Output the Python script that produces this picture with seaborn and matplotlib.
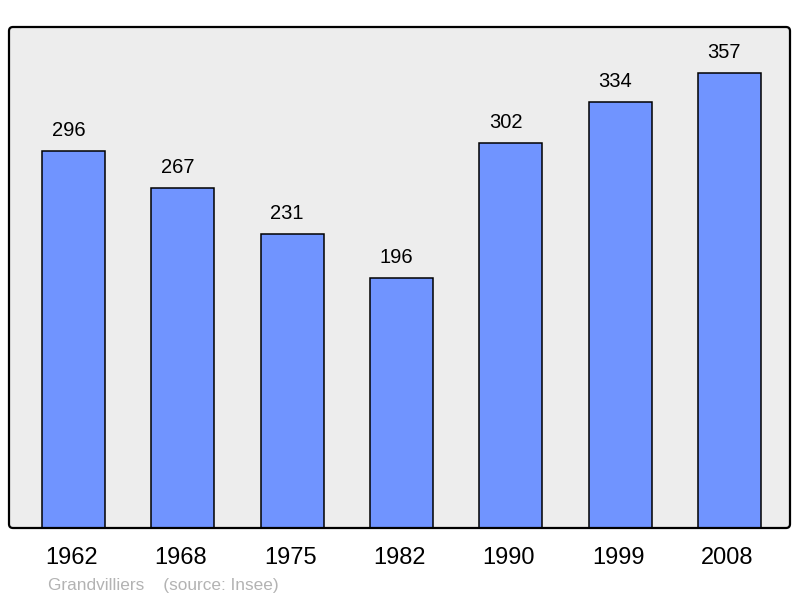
import matplotlib
matplotlib.use("Agg")
import matplotlib.pyplot as plt
import seaborn as sns
import pandas as pd
from matplotlib.patches import FancyBboxPatch
from matplotlib.transforms import IdentityTransform, ScaledTranslation

years = ["1962", "1968", "1975", "1982", "1990", "1999", "2008"]
population = [296, 267, 231, 196, 302, 334, 357]
place = "Grandvilliers"
source = "(source: Insee)"

sns.set_theme(style="white")
plt.rcParams['font.family'] = ['Liberation Sans', 'DejaVu Sans']

df = pd.DataFrame({"year": years, "pop": population})

W, H = 800, 598
fig = plt.figure(figsize=(W / 100, H / 100), dpi=100)
ax = fig.add_axes([9 / W, (H - 528) / H, 781 / W, 501 / H])
ax.set_facecolor("#ededed")

sns.barplot(data=df, x="year", y="pop", color="#7094ff", edgecolor="black",
            linewidth=1.1, width=0.576, saturation=1, ax=ax)

ax.set_xlim(-0.59, 6.555)
ax.set_ylim(0, 393)
for bar, v in zip(ax.patches, population):
    ax.annotate(str(v), (bar.get_x() + bar.get_width() / 2, v),
                xytext=(-5, 11), textcoords="offset pixels",
                ha="center", va="bottom", fontsize=14.5, color="black")

ax.set_xlabel("")
ax.set_ylabel("")
ax.set_yticks([])
ax.tick_params(axis="x", length=0, pad=14, labelsize=17, colors="black")
shift = ScaledTranslation(-2 / 100, 0, fig.dpi_scale_trans)
for lbl in ax.get_xticklabels():
    lbl.set_transform(lbl.get_transform() + shift)
for s in ax.spines.values():
    s.set_visible(False)

border = FancyBboxPatch((9, H - 528), 781, 501,
                        boxstyle="round,pad=0,rounding_size=4",
                        transform=IdentityTransform(), fill=False,
                        edgecolor="black", linewidth=1.6, zorder=10)
fig.patches.append(border)

fig.text(48 / W, (H - 590) / H, place + "    " + source, fontsize=12.4,
         color="#b3b3b3", ha="left", va="baseline")

fig.savefig("out.png", dpi=100)
